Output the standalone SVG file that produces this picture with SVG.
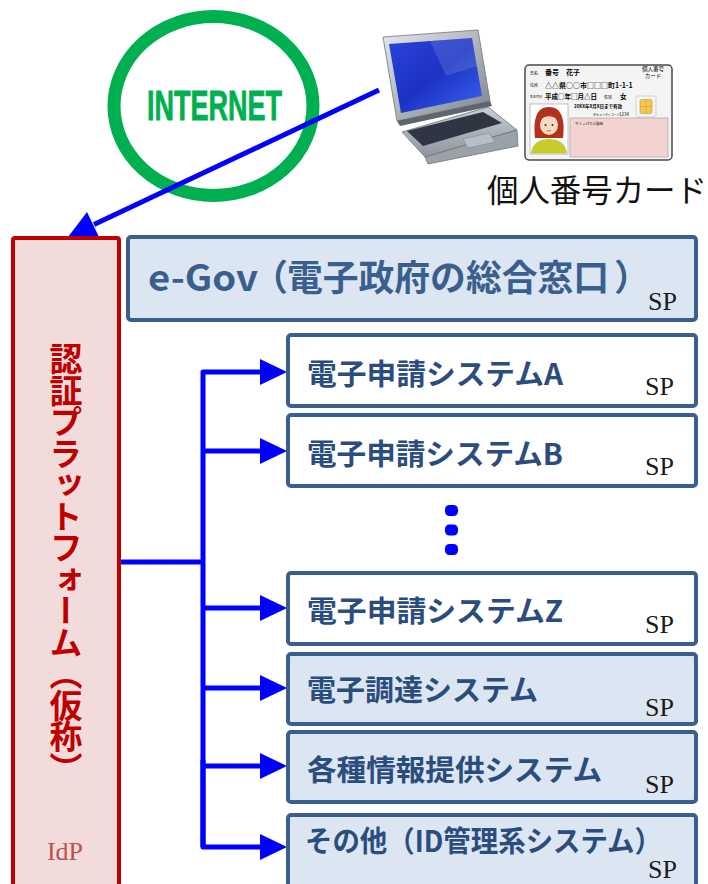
<svg xmlns="http://www.w3.org/2000/svg" width="708" height="884" viewBox="0 0 708 884">
  <style>
    .sp { font-family: "Liberation Serif", serif; font-size: 26px; fill: #1a1a1a; }
    .box { stroke: #3A5F8E; stroke-width: 4; }
    .white { fill: #FFFFFF; }
    .blue { fill: #DCE6F2; }
    .lbl { font-family: "Noto Sans CJK JP", sans-serif; font-weight: 700; font-size: 29px; fill: #2B4D7E; }
    .link { fill: none; stroke: #0000FF; stroke-width: 5; stroke-linejoin: round; }
    .cj { font-family: "Noto Sans CJK JP", sans-serif; }
  </style>
  <defs>
    <marker id="ah" markerUnits="userSpaceOnUse" markerWidth="28" markerHeight="26" refX="2" refY="13" orient="auto">
      <path d="M0,0 L27,13 L0,26 z" fill="#0000FF"/>
    </marker>
    <linearGradient id="lid" x1="0" y1="0" x2="1" y2="1">
      <stop offset="0" stop-color="#E4E8EC"/>
      <stop offset="1" stop-color="#7C838C"/>
    </linearGradient>
    <linearGradient id="scr" x1="0" y1="0" x2="1" y2="1">
      <stop offset="0" stop-color="#2A44D8"/>
      <stop offset="0.5" stop-color="#1B33C4"/>
      <stop offset="1" stop-color="#3E63EE"/>
    </linearGradient>
    <linearGradient id="base" x1="0" y1="0" x2="0" y2="1">
      <stop offset="0" stop-color="#C9CED4"/>
      <stop offset="1" stop-color="#8E959D"/>
    </linearGradient>
  </defs>

  <!-- internet ring -->
  <g id="internet">
    <ellipse cx="213.5" cy="106" rx="99.5" ry="89.5" fill="none" stroke="#00B050" stroke-width="13"/>
    <text x="147" y="120" font-family="Liberation Sans, sans-serif" font-weight="700" font-size="42" fill="#00B050" stroke="#00B050" stroke-width="0.8" textLength="135" lengthAdjust="spacingAndGlyphs">INTERNET</text>
  </g>

  <!-- notebook computer -->
  <g id="laptop">
    <polygon points="402,132 488,107 517,130 425,157" fill="url(#base)" stroke="#6E757D" stroke-width="0.8"/>
    <polygon points="425,157 517,130 518,146 428,164" fill="#9AA1A9" stroke="#6E757D" stroke-width="0.8"/>
    <polygon points="407,131 483,112 502,123 423,146" fill="#2E3644"/>
    <polygon points="463,139 489,133 495,142 468,148" fill="#B8BEC5" stroke="#7A8189" stroke-width="0.5"/>
    <polygon points="383,37 478,30 490,101 397,121" fill="url(#lid)" stroke="#6E757D" stroke-width="0.8"/>
    <polygon points="389,44 472,38 482,96 401,113" fill="url(#scr)"/>
    <polygon points="430,41 472,38 477,66 446,76" fill="#FFFFFF" opacity="0.13"/>
    <polygon points="397,121 490,101 492,106 400,126" fill="#5E656D"/>
  </g>

  <!-- identity card -->
  <g id="card">
    <rect x="525" y="65" width="147" height="95" rx="4" fill="#F4F4F4" stroke="#4A4A4A" stroke-width="1.5"/>
    <text class="cj" x="530" y="75" font-size="4">氏名</text>
    <text class="cj" x="545" y="75" font-size="7" font-weight="700">番号　花子</text>
    <text class="cj" x="653" y="71" font-size="5.5" text-anchor="middle">個人番号</text>
    <text class="cj" x="653" y="78" font-size="5.5" text-anchor="middle">カード</text>
    <text class="cj" x="530" y="87" font-size="4">住所</text>
    <text class="cj" x="545" y="87.5" font-size="7" font-weight="700">△△県○○市□□□町1-1-1</text>
    <text class="cj" x="530" y="98" font-size="3">生年月日</text>
    <text class="cj" x="545" y="98.5" font-size="6.5" font-weight="700">平成○年□月△日</text>
    <text class="cj" x="604" y="98.5" font-size="4">性別</text>
    <text class="cj" x="620" y="98.5" font-size="6.5" font-weight="700">女</text>
    <text class="cj" x="574" y="108" font-size="4.5" font-weight="700">20XX年X月X日まで有効</text>
    <text class="cj" x="593" y="116" font-size="3">セキュリティコード</text>
    <text class="cj" x="619" y="116" font-size="4.5">1234</text>
    <rect x="636" y="96" width="20" height="21" rx="2" fill="none" stroke="#A0A0A0" stroke-width="0.7" stroke-dasharray="1.5 1"/>
    <rect x="640" y="99.5" width="12" height="14" rx="1.5" fill="#F0C850" stroke="#C89A20" stroke-width="0.6"/>
    <path d="M646,99.5 V113.5 M640,106.5 H652" stroke="#C89A20" stroke-width="0.5"/>
    <rect x="570" y="118" width="98" height="39" fill="#F2D3D1" stroke="#9A9A9A" stroke-width="0.6"/>
    <text class="cj" x="575" y="125" font-size="3.5">サインパネル領域</text>
    <!-- portrait -->
    <rect x="530" y="104" width="38" height="50" fill="#FFFFFF" stroke="#9A9A9A" stroke-width="0.6"/>
    <path d="M535,138 C533,120 536,107 549,107 C562,107 565,120 563,138 Z" fill="#B2301E"/>
    <ellipse cx="549" cy="125" rx="9" ry="10" fill="#F8DCC0"/>
    <path d="M540,120 C541,111 557,111 558,120 C553,115 545,115 540,120 Z" fill="#B2301E"/>
    <circle cx="545.5" cy="125" r="1" fill="#402010"/>
    <circle cx="552.5" cy="125" r="1" fill="#402010"/>
    <path d="M547,130.5 Q549,131.5 551,130.5" stroke="#C04040" stroke-width="0.8" fill="none"/>
    <path d="M531,153.5 C532,143 540,139 549,139 C558,139 566,143 567,153.5 Z" fill="#C4CC2E"/>
  </g>
  <text class="cj" x="487" y="202" font-size="31.5" fill="#111111" textLength="220">個人番号カード</text>

  <!-- connectors -->
  <g id="connectors">
    <line x1="379" y1="90" x2="94" y2="224.6" stroke="#0000FF" stroke-width="5"/>
    <polygon points="68,237 87,212 99.5,238" fill="#0000FF"/>
    <path class="link" d="M121,562 H203"/>
    <path class="link" d="M203,847 V372 H262" marker-end="url(#ah)"/>
    <path class="link" d="M203,451 H262" marker-end="url(#ah)"/>
    <path class="link" d="M203,608 H262" marker-end="url(#ah)"/>
    <path class="link" d="M203,688 H262" marker-end="url(#ah)"/>
    <path class="link" d="M203,766 H262" marker-end="url(#ah)"/>
    <path class="link" d="M203,760 V847 H262" marker-end="url(#ah)"/>
    <rect x="445" y="505" width="13" height="11" rx="4.5" fill="#0000FF"/>
    <rect x="445" y="524.5" width="13" height="11" rx="4.5" fill="#0000FF"/>
    <rect x="445" y="544" width="13" height="11" rx="4.5" fill="#0000FF"/>
  </g>

  <!-- identity provider -->
  <g id="idp">
    <rect x="13" y="238" width="106" height="660" rx="2" fill="#F2DCDB" stroke="#C00000" stroke-width="4"/>
    <text class="cj" x="66" y="342" writing-mode="vertical-rl" font-size="33" letter-spacing="-1.5" font-weight="700" fill="#C00000">認証プラットフォーム（仮称）</text>
    <text x="65" y="860" text-anchor="middle" font-family="Liberation Serif, serif" font-size="26" fill="#C0504D">IdP</text>
  </g>

  <!-- service providers -->
  <g id="egov">
    <rect class="box blue" x="128" y="237" width="568" height="83" rx="3"/>
    <text class="cj" x="148" y="291" font-size="36" font-weight="700" fill="#3A5F8E"><tspan textLength="110" lengthAdjust="spacingAndGlyphs">e-Gov</tspan><tspan x="252">（</tspan><tspan x="287" textLength="322" lengthAdjust="spacingAndGlyphs">電子政府の総合窓口</tspan><tspan x="614">）</tspan></text>
    <text class="sp" x="648" y="310">SP</text>
  </g>
  <g id="sysA">
    <rect class="box white" x="288" y="335" width="408" height="71" rx="3"/>
    <text class="lbl" x="307" y="385" textLength="256" lengthAdjust="spacingAndGlyphs">電子申請システムA</text>
    <text class="sp" x="645" y="395">SP</text>
  </g>
  <g id="sysB">
    <rect class="box white" x="288" y="415" width="408" height="71" rx="3"/>
    <text class="lbl" x="307" y="465" textLength="256" lengthAdjust="spacingAndGlyphs">電子申請システムB</text>
    <text class="sp" x="645" y="475">SP</text>
  </g>
  <g id="sysZ">
    <rect class="box white" x="288" y="573" width="408" height="71" rx="3"/>
    <text class="lbl" x="307" y="622" textLength="256" lengthAdjust="spacingAndGlyphs">電子申請システムZ</text>
    <text class="sp" x="645" y="633">SP</text>
  </g>
  <g id="procurement">
    <rect class="box blue" x="288" y="654" width="408" height="70" rx="3"/>
    <text class="lbl" x="307" y="701" textLength="231" lengthAdjust="spacingAndGlyphs">電子調達システム</text>
    <text class="sp" x="645" y="716">SP</text>
  </g>
  <g id="info">
    <rect class="box blue" x="288" y="732" width="408" height="70" rx="3"/>
    <text class="lbl" x="307" y="781" textLength="295" lengthAdjust="spacingAndGlyphs">各種情報提供システム</text>
    <text class="sp" x="645" y="793">SP</text>
  </g>
  <g id="other">
    <rect class="box blue" x="288" y="815" width="408" height="80" rx="3"/>
    <text class="lbl" x="305" y="852" textLength="357" lengthAdjust="spacingAndGlyphs">その他（ID管理系システム）</text>
    <text class="sp" x="648" y="878">SP</text>
  </g>
</svg>
